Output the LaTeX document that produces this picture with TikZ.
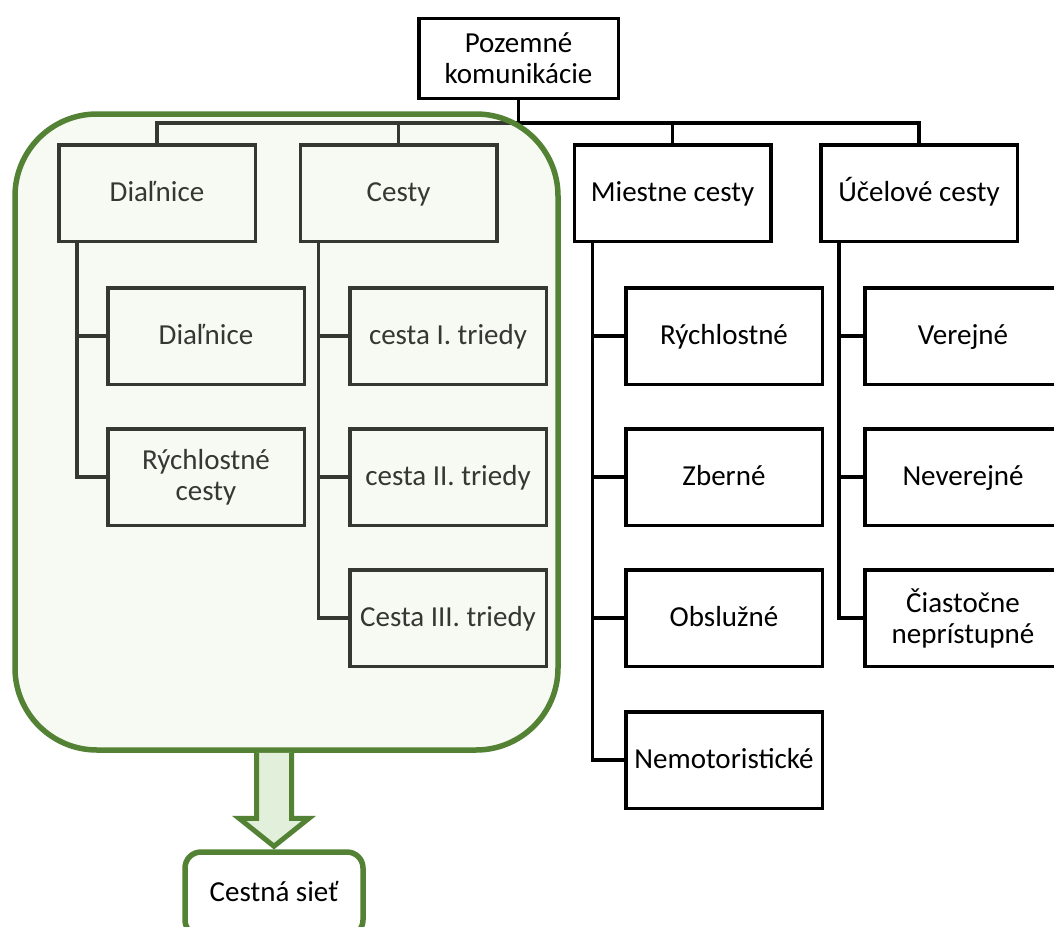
\documentclass[tikz,border=0pt]{standalone}
\usepackage{fontspec}
\setmainfont{Carlito}
\usetikzlibrary{calc}
\definecolor{grn}{RGB}{84,130,53}
\definecolor{grnfill}{RGB}{222,230,209}
\definecolor{arrfill}{RGB}{226,239,218}
\begin{document}
\begin{tikzpicture}[x=1pt,y=-1pt,
  box/.style={draw=black, fill=white, line width=3.5pt, minimum width=196.5pt,
    minimum height=96.5pt, inner sep=2pt, align=center,
    font=\fontsize{29}{31}\selectfont},
  one/.style={text height=19pt, text depth=1.5pt},
  link/.style={line width=3.5pt, line join=miter},
  group/.style={draw=grn, line width=5.5pt, rounded corners=82pt,
    fill=grnfill, fill opacity=0.24},
  netbox/.style={draw=grn, line width=5.5pt, rounded corners=16pt, fill=white,
    minimum width=178pt, minimum height=84pt, font=\fontsize{29}{31}\selectfont,
    text height=19pt, text depth=4pt},
  arrowline/.style={draw=grn, line width=5pt, line join=miter}]
\clip (0,0) rectangle (1054,926);
\fill[white] (0,0) rectangle (1054,926);

% tree nodes
\node[box, minimum width=199.5pt, minimum height=80pt] (top) at (518.5,58.5) {Pozemné\\komunikácie};
\node[box, one] (dial)  at (157,193)   {Diaľnice};
\node[box, one] (cesty) at (398.5,193) {Cesty};
\node[box, one] (miest) at (672.5,193) {Miestne cesty};
\node[box, one] (ucel)  at (919,193)   {Účelové cesty};

\node[box, one] (d1) at (206,336) {Diaľnice};
\node[box]      (d2) at (206,477) {Rýchlostné\\cesty};

\node[box, one] (c1) at (448,336) {cesta I. triedy};
\node[box, one] (c2) at (448,477) {cesta II. triedy};
\node[box, one] (c3) at (448,618) {Cesta III. triedy};

\node[box, one] (m1) at (724,336) {Rýchlostné};
\node[box, one] (m2) at (724,477) {Zberné};
\node[box, one] (m3) at (724,618) {Obslužné};
\node[box, one] (m4) at (724,760) {Nemotoristické};

\node[box, one] (u1) at (963,336) {Verejné};
\node[box, one] (u2) at (963,477) {Neverejné};
\node[box]      (u3) at (963,618) {Čiastočne\\neprístupné};

% connectors
\coordinate (bar) at (0,123);
\draw[link] (dial.north) -- (dial.north |- bar) -| (ucel.north);
\draw[link] (cesty.north) -- (cesty.north |- bar);
\draw[link] (miest.north) -- (miest.north |- bar);
\draw[link] (top.south) -- (top.south |- bar);

\draw[link] ([xshift=20pt]dial.south west) |- (d2.west);
\draw[link] ([xshift=20pt]dial.south west) |- (d1.west);

\draw[link] ([xshift=20pt]cesty.south west) |- (c3.west);
\draw[link] ([xshift=20pt]cesty.south west) |- (c2.west);
\draw[link] ([xshift=20pt]cesty.south west) |- (c1.west);

\draw[link] ([xshift=20pt]miest.south west) |- (m4.west);
\draw[link] ([xshift=20pt]miest.south west) |- (m3.west);
\draw[link] ([xshift=20pt]miest.south west) |- (m2.west);
\draw[link] ([xshift=20pt]miest.south west) |- (m1.west);

\draw[link] ([xshift=20pt]ucel.south west) |- (u3.west);
\draw[link] ([xshift=20pt]ucel.south west) |- (u2.west);
\draw[link] ([xshift=20pt]ucel.south west) |- (u1.west);

% green group
\node[group, minimum width=543pt, minimum height=636pt] (grp) at (286.5,432) {};

% result node and arrow
\node[netbox] (net) at (274,894) {Cestná sieť};
\coordinate (tip) at ([yshift=3pt]net.north);
\coordinate (hl) at ($(tip)+(-35,-28)$);
\coordinate (hr) at ($(tip)+(35,-28)$);
\coordinate (sl) at ($(tip)+(-17.5,-28)$);
\coordinate (sr) at ($(tip)+(17.5,-28)$);
\fill[arrfill] (sl |- grp.south) -- (sl) -- (hl) -- (tip) -- (hr) -- (sr) -- (sr |- grp.south) -- cycle;
\draw[arrowline] (sl |- grp.south) -- (sl) -- (hl) -- (tip) -- (hr) -- (sr) -- (sr |- grp.south);
\end{tikzpicture}
\end{document}
